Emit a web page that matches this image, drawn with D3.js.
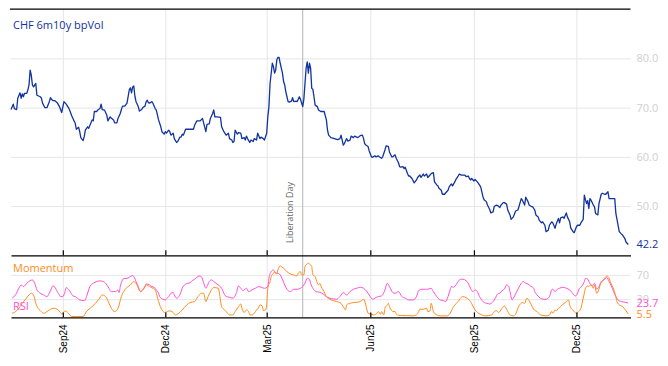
<!DOCTYPE html>
<html>
<head>
<meta charset="utf-8">
<script src="https://cdn.jsdelivr.net/npm/d3@7"></script>
<style>
  body { margin: 0; background: #fff; }
  svg { display: block; }
  .grid line { stroke: #e6e6e6; }
  .grid path { display: none; }
</style>
</head>
<body>
<svg id="chart" width="668" height="366"></svg>
<script>
// data: day offsets from startDate
const startDate = new Date(2024, 6, 17);
const endDay = 550;
const eventDate = new Date(2025, 3, 2);
const eventLabel = "Liberation Day";
const tickDates = ["2024-09-01", "2024-12-01", "2025-03-01", "2025-06-01", "2025-09-01", "2025-12-01"];
const volTicks = [50, 60, 70, 80];
const oscTicks = [30, 70];

const volDays = [0,2,3,5,6,8,9,10,11,12,14,15,16,17,18,19,20,22,23,26,27,28,30,32,34,35,37,39,41,43,45,47,49,51,52,54,55,57,58,60,61,62,64,65,66,68,69,71,72,73,74,76,77,79,80,81,83,85,86,88,89,91,92,94,95,97,98,99,101,103,105,106,107,108,109,110,111,113,114,116,117,119,120,121,122,123,125,126,128,129,130,131,133,134,136,137,138,140,141,142,144,145,147,148,150,151,152,153,155,157,162,163,165,168,170,171,173,174,176,177,179,180,181,183,
  186,187,189,191,193,194,196,197,198,199,201,202,204,205,207,208,209,210,212,213,215,216,218,219,221,222,224,225,227,228,229,230,232,233,234,235,236,237,238,239,241,242,243,244,245,246,247,249,250,251,253,254,256,257,259,260,261,262,263,264,265,266,267,268,269,270,272,273,275,277,278,280,281,282,284,287,290,292,293,295,296,298,299,301,302,304,305,307,308,310,312,313,314,315,317,318,320,321,323,324,326,327,329,330,332,333,335,336,338,339,341,342,344,345,346,348,349,350,352,353,354,356,358,360,361,363,364,366,367,369,370,372,373,375,
  376,378,379,380,382,383,385,386,388,389,391,392,394,395,397,398,400,403,404,406,407,408,409,411,412,414,415,417,419,420,422,423,425,426,428,429,431,432,434,435,437,438,440,441,443,444,446,447,448,450,451,453,454,456,457,459,460,462,463,465,466,468,469,471,472,474,475,477,478,480,481,483,484,486,487,488,490,491,493,494,496,497,499,500,502,503,505,506,508,509,510,511,512,513,514,515,517,518,519,521,522,524,525,527,528,530,531,533,534,536,537,539,540,542,543,545,546,548];
const volValues = [69.6,70.7,69.8,69.6,71.9,73.0,71.9,72.8,72.2,72.9,72.9,73.6,74.6,77.6,76.6,74.6,74.2,74.9,72.5,72.2,71.9,70.9,70.0,70.0,71.2,72.0,71.4,71.4,71.0,70.2,69.0,71.2,70.7,70.0,69.5,68.3,67.8,66.8,65.6,66.0,65.1,63.9,63.3,64.1,65.4,66.1,65.8,66.9,67.5,67.3,69.2,69.2,69.5,69.8,70.7,69.6,69.5,68.5,67.3,68.1,67.9,67.5,66.9,66.9,67.8,68.8,69.6,70.3,70.3,70.9,73.6,74.0,73.0,74.2,74.4,72.3,71.2,70.2,69.3,69.6,70.0,70.3,71.2,71.5,71.0,70.9,71.2,70.9,69.8,69.5,68.5,67.5,66.1,65.1,64.6,65.1,64.8,65.4,65.1,64.4,64.8,63.7,62.9,63.1,64.0,64.0,64.6,64.4,65.6,65.6,65.6,66.4,67.3,67.3,67.8,66.9,65.1,66.6,66.7,67.8,68.8,69.5,68.1,68.1,
  68.0,66.1,65.1,64.4,64.8,63.7,63.4,62.9,63.1,65.4,64.6,64.9,64.8,63.7,63.9,63.4,64.2,63.7,62.9,63.4,63.1,63.7,63.4,64.8,63.7,64.0,63.7,63.4,64.8,68.1,70.2,74.9,79.0,78.3,77.0,77.6,79.7,80.2,80.2,79.0,77.0,75.3,74.6,73.2,72.2,71.2,71.1,71.3,72.0,71.2,71.3,71.2,72.2,71.7,70.2,71.7,74.9,78.0,79.3,77.0,79.0,78.0,73.9,73.7,72.2,70.5,70.2,69.5,69.2,69.2,69.2,67.5,65.4,64.4,63.9,63.7,63.5,63.7,64.4,62.4,62.7,63.7,63.2,63.4,64.2,63.9,64.2,64.0,63.9,64.3,64.4,63.7,62.7,62.4,62.1,61.2,60.0,59.9,60.2,60.0,60.2,60.0,59.7,60.0,61.4,62.2,62.1,61.0,60.0,60.0,60.4,59.7,58.8,58.0,57.9,58.0,57.6,57.9,56.6,56.1,56.1,55.6,54.7,55.3,55.8,56.3,55.8,56.5,56.1,56.5,55.8,56.3,56.6,56.8,
  54.9,54.3,54.1,53.6,53.2,52.4,52.4,52.7,53.2,53.9,54.5,54.1,54.9,55.4,56.1,56.5,56.3,56.3,56.0,56.1,55.6,55.3,55.6,55.1,55.4,54.9,54.6,53.9,51.9,51.3,50.9,50.2,49.3,48.6,48.8,49.9,50.2,50.1,49.7,50.2,50.7,50.7,50.4,49.2,48.2,47.3,47.8,48.4,49.0,49.2,49.9,51.5,51.2,50.2,51.8,50.9,50.2,49.9,49.9,49.2,48.2,47.8,47.1,46.6,46.8,46.1,44.8,45.1,46.1,46.8,46.6,45.5,46.3,47.5,46.6,47.6,47.8,47.5,48.6,47.8,46.8,45.5,44.8,44.6,45.8,46.1,46.1,46.6,47.3,52.2,51.3,50.5,51.1,49.5,51.5,51.2,50.2,49.9,48.5,48.2,50.5,52.4,52.6,52.4,52.4,52.9,51.5,51.5,51.5,51.5,48.5,46.1,44.8,44.3,44.1,43.4,42.7,42.2];

const rsiDays = [1,4,7,9,11,14,17,19,21,23,26,29,32,34,36,37,39,41,43,44,46,48,49,51,53,55,57,59,61,64,66,67,69,70,73,76,79,82,84,87,89,91,93,95,96,97,99,100,103,105,107,108,109,111,113,115,117,119,120,123,125,127,129,131,132,135,137,138,140,142,144,145,147,149,151,152,154,157,159,161,163,165,167,169,171,173,174,176,178,180,182,184,
  187,189,191,194,197,200,202,204,206,209,211,213,215,217,220,222,225,228,229,231,233,235,237,239,241,243,245,248,251,254,257,259,261,263,265,266,268,271,274,277,280,283,286,289,292,295,298,301,304,307,310,313,316,319,321,323,326,329,332,334,336,339,341,344,347,350,353,357,360,362,365,368,370,373,375,378,
  381,384,386,388,390,391,393,396,397,399,401,404,406,408,410,412,414,416,419,422,425,428,430,432,434,436,438,440,442,443,445,446,449,451,453,455,457,459,461,464,465,467,470,473,475,478,480,481,483,485,487,490,493,496,498,501,503,504,507,509,510,512,514,516,518,520,522,524,526,528,529,531,533,535,537,539,542,545,548];
const rsiValues = [31.6,37.0,48.0,53.5,50.8,56.2,60.6,61.7,56.2,45.3,39.8,37.0,34.3,39.8,48.0,51.9,49.7,42.5,37.0,34.3,34.3,42.5,49.1,46.4,40.9,35.4,34.3,31.6,28.8,27.7,28.8,34.3,45.3,50.8,56.2,59.0,60.1,59.0,56.2,48.0,42.5,42.5,42.5,45.3,40.9,50.8,61.7,63.9,64.5,66.1,68.3,68.9,67.2,59.0,50.8,42.5,45.3,50.8,55.1,53.5,50.8,49.7,45.3,39.8,34.3,29.9,28.8,30.5,34.3,39.8,40.9,37.0,31.6,34.3,42.5,48.0,53.5,56.2,57.3,60.6,62.8,66.1,68.3,67.2,57.3,48.0,50.8,59.0,61.7,59.0,56.2,53.5,
  48.0,39.8,34.3,33.2,31.6,39.8,51.9,48.0,44.2,48.0,42.5,44.2,46.4,48.0,50.8,49.7,48.0,50.8,64.5,75.4,78.2,72.7,72.7,70.0,62.8,53.5,46.4,42.5,46.4,46.4,48.0,50.8,56.2,64.5,62.8,56.2,48.0,42.5,41.4,38.7,34.3,31.6,30.5,29.9,34.3,40.9,37.0,42.5,46.4,48.0,49.7,48.0,42.5,34.3,29.9,31.6,34.3,35.4,45.3,56.2,50.8,40.9,39.8,42.5,34.3,31.6,28.8,28.8,34.3,44.2,46.4,46.4,46.4,48.0,42.5,34.3,
  28.8,27.7,26.1,34.3,46.4,50.8,49.7,56.2,59.0,62.8,62.8,60.6,56.2,48.0,42.5,45.3,42.5,34.3,26.1,23.3,22.2,26.1,31.6,38.7,39.8,44.2,46.4,53.5,50.8,42.5,28.8,31.6,42.5,49.7,56.2,59.0,56.2,55.1,51.9,48.0,42.5,37.0,31.6,29.9,29.9,34.3,45.3,46.4,42.5,46.4,48.0,49.7,48.0,45.3,40.9,35.4,39.8,45.3,51.9,59.0,64.5,62.8,56.2,51.9,56.2,46.4,50.8,59.0,61.7,64.5,65.6,59.0,51.9,42.5,34.3,28.8,26.1,25.0,23.7];

const momDays = [1,4,7,10,13,16,18,20,22,24,26,29,32,35,38,41,44,45,48,51,54,58,64,67,72,75,78,81,84,87,89,92,95,98,101,106,109,111,115,117,120,123,126,128,131,134,137,140,143,146,149,152,156,159,163,166,169,171,173,175,180,184,
  187,189,191,194,197,199,200,202,204,205,207,209,211,212,214,216,218,220,221,223,224,226,227,228,230,231,233,234,236,237,239,240,242,245,248,251,254,255,257,258,260,261,263,264,265,267,268,270,271,273,274,276,277,280,283,286,289,292,294,295,297,298,301,304,307,310,312,313,315,316,317,319,322,325,326,328,329,331,332,334,335,336,338,339,341,342,344,347,351,357,360,362,363,366,369,370,372,373,375,378,
  381,384,387,390,392,394,397,399,401,404,406,408,410,412,415,418,421,424,427,428,431,433,434,436,438,439,441,443,446,447,449,450,452,454,456,458,460,462,464,467,470,473,475,478,480,481,483,484,486,488,490,492,495,496,498,500,502,504,506,507,509,510,512,513,515,517,518,520,522,523,525,527,529,531,532,535,537,538,540,543,546,548];
const momValues = [6.9,9.6,15.1,23.3,29.9,37.0,39.8,37.0,23.3,15.1,11.2,6.9,9.6,13.4,15.1,13.4,8.0,5.8,10.7,6.9,1.4,1.4,1.4,9.6,17.8,23.3,29.9,37.0,34.3,23.3,15.1,9.6,15.1,34.3,45.3,53.5,59.0,56.2,42.5,45.3,53.5,50.8,48.0,45.3,26.1,12.3,8.0,10.7,9.6,4.1,6.9,12.3,20.6,24.4,26.1,34.3,39.8,39.8,26.1,34.3,49.1,48.0,
  17.8,13.4,9.6,4.1,4.1,9.6,12.3,17.8,22.2,15.1,8.0,12.3,9.6,4.1,4.1,6.9,12.3,16.7,20.6,18.9,11.2,12.3,20.6,48.0,59.0,67.2,72.7,75.4,71.6,78.2,84.8,83.7,80.9,75.4,71.6,70.0,68.3,72.7,75.4,70.0,70.0,83.7,88.1,89.2,88.1,83.7,70.0,67.2,61.7,53.5,56.2,48.0,45.3,34.3,29.9,27.7,26.1,24.4,20.6,17.8,12.3,20.6,23.3,24.4,25.0,26.1,28.8,29.9,20.6,12.3,6.9,5.8,4.1,6.9,9.6,5.2,9.6,4.1,15.1,20.6,23.3,17.8,11.2,9.6,9.6,5.8,3.6,3.0,3.0,2.5,4.1,9.6,13.4,13.4,15.1,9.6,10.7,23.3,9.6,4.1,
  2.5,2.5,2.5,6.9,15.1,20.6,26.1,31.6,34.3,32.6,29.9,26.1,18.9,12.3,6.9,4.1,2.5,3.0,4.1,6.9,11.2,8.0,9.6,15.1,18.9,16.7,9.6,4.1,2.5,3.0,9.6,15.1,21.7,24.4,23.3,31.6,27.7,20.6,13.4,9.6,4.1,3.0,2.5,4.1,9.6,6.9,12.3,10.7,15.1,17.8,21.7,24.4,28.8,20.6,13.4,9.6,6.9,9.6,15.1,23.3,39.8,48.0,51.9,50.8,53.5,48.0,53.5,39.8,46.4,53.5,59.0,64.5,68.3,64.5,59.0,46.4,34.3,26.1,20.6,17.8,11.0,5.5];

const volColor = "#1133a0", rsiColor = "#ff4fd8", momColor = "#ff8c1a";
const W = 668, H = 366;
const left = 11, right = 630.5;
const topY = 9.1, midY = 255.3, botY = 317.4;

const toDate = d => d3.timeDay.offset(startDate, d);
const parse = d3.timeParse("%Y-%m-%d");

const x = d3.scaleTime()
  .domain([startDate, toDate(endDay)])
  .range([left, right]);
const yVol = d3.scaleLinear().domain([40, 90]).range([midY, topY]);
const yOsc = d3.scaleLinear().domain([0, 100]).range([botY, 256.7]);

const svg = d3.select("#chart");
svg.append("rect").attr("width", W).attr("height", H).attr("fill", "#fff");

const ticks = tickDates.map(parse);

// vertical grid
svg.append("g")
  .attr("class", "grid")
  .attr("transform", "translate(0," + botY + ")")
  .call(d3.axisBottom(x).tickValues(ticks).tickSize(-(botY - topY)).tickFormat(""));

// horizontal grid + right labels
const volAxis = svg.append("g")
  .attr("class", "grid")
  .attr("transform", "translate(" + right + ",0)")
  .call(d3.axisRight(yVol).tickValues(volTicks).tickSize(-(right - left)).tickPadding(6).tickFormat(d3.format(".1f")));
const oscAxis = svg.append("g")
  .attr("class", "grid")
  .attr("transform", "translate(" + right + ",0)")
  .call(d3.axisRight(yOsc).tickValues(oscTicks).tickSize(-(right - left)).tickPadding(6).tickFormat(d3.format("d")));
svg.selectAll(".grid text")
  .attr("fill", "#cfcfcf")
  .style("font-family", "'Open Sans', sans-serif")
  .style("font-size", "11px");

// event line
const ex = x(eventDate);
svg.append("line")
  .attr("x1", ex).attr("x2", ex)
  .attr("y1", topY).attr("y2", botY)
  .attr("stroke", "#b4b4b4").attr("stroke-width", 1);
svg.append("text")
  .attr("transform", "translate(" + (ex - 9.5) + ",243) rotate(-90)")
  .attr("fill", "#666")
  .style("font-family", "'Open Sans', sans-serif")
  .style("font-size", "9px")
  .text(eventLabel);

// lines
const volLine = d3.line()
  .x((d, i) => x(toDate(volDays[i])))
  .y(d => yVol(d));
svg.append("path")
  .datum(volValues)
  .attr("fill", "none")
  .attr("stroke", volColor)
  .attr("stroke-width", 1.3)
  .attr("stroke-linejoin", "round")
  .attr("d", volLine);

const rsiLine = d3.line()
  .x((d, i) => x(toDate(rsiDays[i])))
  .y(d => yOsc(d))
  .curve(d3.curveMonotoneX);
svg.append("path")
  .datum(rsiValues)
  .attr("fill", "none")
  .attr("stroke", rsiColor)
  .attr("stroke-width", 1)
  .attr("d", rsiLine);

const momLine = d3.line()
  .x((d, i) => x(toDate(momDays[i])))
  .y(d => yOsc(d))
  .curve(d3.curveMonotoneX);
svg.append("path")
  .datum(momValues)
  .attr("fill", "none")
  .attr("stroke", momColor)
  .attr("stroke-width", 1)
  .attr("d", momLine);

// frame lines
svg.append("line")
  .attr("x1", left - 1).attr("x2", right)
  .attr("y1", topY).attr("y2", topY)
  .attr("stroke", "#000").attr("stroke-width", 1.2);

svg.append("g")
  .attr("transform", "translate(0," + midY + ")")
  .call(d3.axisBottom(x).tickValues(ticks).tickSize(-5).tickSizeOuter(0).tickFormat(""))
  .call(g => g.selectAll("path,line").attr("stroke", "#000").attr("stroke-width", 1.2));

const xAxis = svg.append("g")
  .attr("transform", "translate(0," + botY + ")")
  .call(d3.axisBottom(x).tickValues(ticks).tickSize(-5).tickSizeOuter(0).tickFormat(d3.timeFormat("%b%y")))
  .call(g => g.selectAll("path,line").attr("stroke", "#000").attr("stroke-width", 1.2));
xAxis.selectAll("text")
  .attr("transform", "rotate(-90)")
  .attr("text-anchor", "end")
  .attr("x", -7)
  .attr("y", 0)
  .attr("dy", "0.35em")
  .attr("fill", "#000")
  .style("font-family", "'Liberation Sans', Arial, sans-serif")
  .style("font-size", "10px");

// labels
const lab = (txt, xx, yy, col) => svg.append("text")
  .attr("x", xx).attr("y", yy)
  .attr("fill", col)
  .style("font-family", "'Open Sans', sans-serif")
  .style("font-size", "11px")
  .text(txt);

lab("CHF 6m10y bpVol", 13, 29, volColor);
lab("Momentum", 13, 272, momColor);
lab("RSI", 13, 310, rsiColor);

const lastVol = volValues[volValues.length - 1];
const lastRsi = rsiValues[rsiValues.length - 1];
const lastMom = momValues[momValues.length - 1];
lab(d3.format(".1f")(lastVol), right + 6, yVol(lastVol) + 4, volColor);
lab(d3.format(".1f")(lastRsi), right + 6, yOsc(lastRsi) + 4, rsiColor);
lab(d3.format(".1f")(lastMom), right + 6, yOsc(lastMom) + 4, momColor);
</script>
</body>
</html>
